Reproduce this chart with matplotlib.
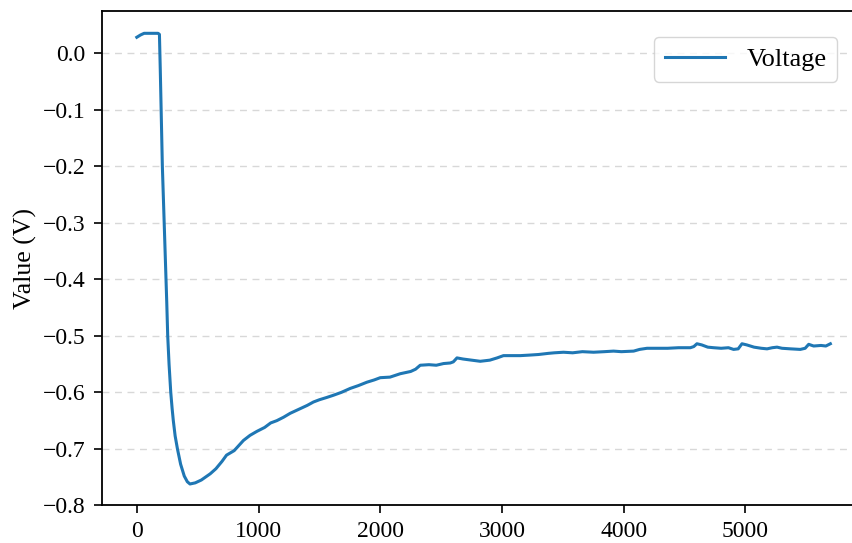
import numpy as np
import matplotlib
matplotlib.use("Agg")
import matplotlib.pyplot as plt

# Voltage trace
time_s = [0, 30, 60, 120, 175, 186, 193, 200, 210, 225, 240, 246, 254, 265, 279,
          290, 300, 315, 334, 360, 390, 415, 437, 480, 530, 603, 650, 700, 737,
          800, 876, 930, 986, 1050, 1100, 1150, 1205, 1260, 1300, 1350, 1400,
          1451, 1500, 1560, 1616, 1680, 1753, 1820, 1890, 1950, 2000, 2080, 2164,
          2250, 2290, 2328, 2400, 2460, 2520, 2575, 2600, 2630, 2680, 2750, 2821,
          2900, 2960, 3012, 3080, 3150, 3230, 3300, 3380, 3430, 3505, 3580, 3660,
          3752, 3840, 3916, 3980, 4081, 4130, 4191, 4280, 4360, 4450, 4547, 4575,
          4601, 4640, 4690, 4738, 4800, 4860, 4902, 4940, 4971, 5010, 5070, 5130,
          5177, 5220, 5259, 5300, 5370, 5450, 5490, 5519, 5560, 5620, 5660, 5697]
voltage = [0.028, 0.032, 0.035, 0.035, 0.035, 0.033, -0.03, -0.1, -0.2, -0.3, -0.4,
           -0.44, -0.5, -0.55, -0.6, -0.628, -0.65, -0.677, -0.7, -0.727, -0.748,
           -0.758, -0.762, -0.760, -0.755, -0.744, -0.735, -0.722, -0.711, -0.703,
           -0.685, -0.676, -0.669, -0.662, -0.654, -0.650, -0.644, -0.637, -0.633,
           -0.628, -0.623, -0.617, -0.613, -0.609, -0.605, -0.600, -0.593, -0.588,
           -0.582, -0.578, -0.574, -0.573, -0.567, -0.563, -0.559, -0.552, -0.551,
           -0.552, -0.549, -0.548, -0.546, -0.539, -0.541, -0.543, -0.545, -0.543,
           -0.539, -0.535, -0.535, -0.535, -0.534, -0.533, -0.531, -0.530, -0.529,
           -0.530, -0.528, -0.529, -0.528, -0.527, -0.528, -0.527, -0.524, -0.522,
           -0.522, -0.522, -0.521, -0.521, -0.519, -0.514, -0.516, -0.520, -0.521,
           -0.522, -0.521, -0.524, -0.523, -0.514, -0.516, -0.520, -0.522, -0.523,
           -0.521, -0.520, -0.522, -0.523, -0.524, -0.522, -0.515, -0.518, -0.517,
           -0.518, -0.514]

plt.rcParams['font.family'] = ['Liberation Serif', 'DejaVu Serif']

fig = plt.figure(figsize=(8.52, 5.43), dpi=100)
# right spine sits just past the image edge, as in the reference
ax = fig.add_axes([0.1194, 0.0691, 0.8842, 0.9112])

ax.plot(time_s, voltage, color='#1f77b4', linewidth=2.2, label='Voltage')

ax.set_xlim(-288, 5900)
ax.set_ylim(-0.8, 0.075)
ax.set_yticks(np.arange(-0.8, 0.01, 0.1))
ax.set_xticks([0, 1000, 2000, 3000, 4000, 5000])
ax.set_ylabel('Value (V)', fontsize=18.5, labelpad=4)
ax.tick_params(labelsize=17, length=5.5, width=1.2, pad=6)
for sp in ax.spines.values():
    sp.set_linewidth(1.3)

ax.grid(axis='y', linestyle=(0, (5, 4)), color='gray', alpha=0.3, linewidth=1)
ax.legend(loc='upper right', bbox_to_anchor=(0.976, 0.947), borderaxespad=0,
          fontsize=19, handlelength=2.3)

fig.savefig('out.png', dpi=100)
